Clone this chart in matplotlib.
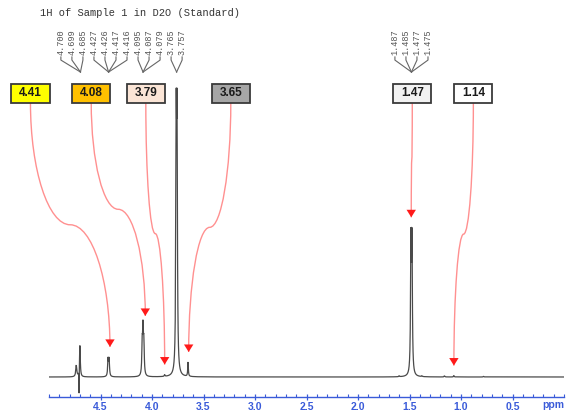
import numpy as np
import matplotlib
matplotlib.use("Agg")
import matplotlib.pyplot as plt
from matplotlib.path import Path
from matplotlib.patches import PathPatch, Rectangle

# ---------------- data ----------------
title = "1H of Sample 1 in D2O (Standard)"

# peak list (ppm, relative height, half width)
peak_ppm    = [4.735, 4.700, 4.708, 4.4265, 4.4165, 4.095, 4.087, 4.079, 3.877,
               3.765, 3.757, 3.650, 1.600, 1.486, 1.476, 1.380, 1.160, 1.069, 0.780]
peak_height = [0.040, 0.110, -0.085, 0.060, 0.060, 0.105, 0.150, 0.105, 0.006,
               0.810, 0.810, 0.050, 0.003, 0.448, 0.448, 0.003, 0.004, 0.005, 0.002]
peak_hwhm   = [0.006, 0.0045, 0.0008, 0.0045, 0.0045, 0.0045, 0.0045, 0.0045, 0.004,
               0.0045, 0.0045, 0.0035, 0.004, 0.0045, 0.0045, 0.004, 0.004, 0.0035, 0.004]

# assignment boxes
label_values = ["4.41", "4.08", "3.79", "3.65", "1.47", "1.14"]
label_colors = ["#ffff00", "#ffc000", "#fbe5d6", "#a6a6a6", "#f2f2f2", "#ffffff"]
label_box_ppm = [5.18, 4.59, 4.06, 3.235, 1.473, 0.88]
arrow_target_ppm = [4.408, 4.065, 3.877, 3.644, 1.483, 1.069]

# peak-picking label clusters (each cluster: list of multiplets)
pick_clusters = [
    [["4.700", "4.699", "4.685"],
     ["4.427", "4.426", "4.417", "4.416"],
     ["4.095", "4.087", "4.079"],
     ["3.765", "3.757"]],
    [["1.487", "1.485", "1.477", "1.475"]],
]

major_ticks = [4.5, 4.0, 3.5, 3.0, 2.5, 2.0, 1.5, 1.0, 0.5]

# ---------------- figure ----------------
W, H = 568, 411
fig = plt.figure(figsize=(W / 100, H / 100), dpi=100)
fig.patch.set_facecolor("white")

ax_left, ax_right, ax_bottom_px = 49, 564, 397
ax = fig.add_axes([ax_left / W, (H - ax_bottom_px) / H, (ax_right - ax_left) / W, ax_bottom_px / H])
ax.set_xlim(5.0, 0.0)
ax.set_ylim(-0.0702, 1.3228)

x = np.linspace(0.0, 5.0, 40001)
spec = np.zeros_like(x)
for p, h, w in zip(peak_ppm, peak_height, peak_hwhm):
    spec += h * w ** 2 / ((x - p) ** 2 + w ** 2)
ax.plot(x, spec, color="#4a4a4a", lw=0.9, solid_joinstyle="miter")

# axes styling
for s in ["left", "right", "top"]:
    ax.spines[s].set_visible(False)
axis_blue = "#3a5bd9"
ax.spines["bottom"].set_color(axis_blue)
ax.spines["bottom"].set_linewidth(1.0)
ax.set_yticks([])
ax.set_xticks(major_ticks)
ax.set_xticklabels([f"{t:.1f}" for t in major_ticks])
ax.set_xticks(np.round(np.arange(0.0, 5.01, 0.1), 1), minor=True)
ax.tick_params(axis="x", which="major", direction="inout", length=5, width=0.9,
               color=axis_blue, labelcolor=axis_blue, labelsize=7.5, pad=1)
ax.tick_params(axis="x", which="minor", direction="in", length=2.5, width=0.8, color=axis_blue)
for lab in ax.get_xticklabels():
    lab.set_fontweight("bold")
    lab.set_family("Liberation Sans")
ax.text(0.0, -0.110, "ppm", ha="right", va="baseline", color=axis_blue, fontsize=7.5,
        fontweight="bold", family="Liberation Sans", clip_on=False)

# title
fig.text(40 / W, 1 - 13 / H, title, family="Liberation Mono", fontsize=7.5,
         color="#333333", va="center", ha="left")

# ---------------- peak-picking labels ----------------
spacing = 0.107
y_text = 1.130
y_leader_top = 1.123
y_leader_knee = 1.112
y_leader_end = 1.070
for cluster in pick_clusters:
    all_vals = [float(v) for grp in cluster for v in grp]
    center = np.mean(all_vals)
    n = len(all_vals)
    positions = [center + ((n - 1) / 2 - i) * spacing for i in range(n)]
    k = 0
    for grp in cluster:
        gc = np.mean([float(v) for v in grp])
        for v in grp:
            px = positions[k]
            ax.text(px, y_text, v, rotation=90, ha="center", va="bottom",
                    family="Liberation Mono", fontsize=6.2, color="#555555", clip_on=False)
            ax.plot([px, px, gc], [y_leader_top, y_leader_knee, y_leader_end],
                    color="#666666", lw=0.8, clip_on=False)
            k += 1

# ---------------- assignment boxes and arrows ----------------
box_y = 0.996
box_w, box_h = 0.37, 0.0667
y_start = box_y - box_h / 2
gap = 0.035
kappa = 0.5523
for val, col, bx, tx in zip(label_values, label_colors, label_box_ppm, arrow_target_ppm):
    win = (x > tx - 0.02) & (x < tx + 0.02)
    ty = spec[win].max() + gap
    x0, y0, x1, y1 = bx, y_start, tx, ty
    xm, ym = (x0 + x1) / 2, (y0 + y1) / 2
    verts = [(x0, y0), (x0, y0 + kappa * (ym - y0)), (xm - kappa * (xm - x0), ym), (xm, ym),
             (xm + kappa * (x1 - xm), ym), (x1, y1 - kappa * (y1 - ym)), (x1, y1)]
    codes = [Path.MOVETO] + [Path.CURVE4] * 6
    ax.add_patch(PathPatch(Path(verts, codes), fill=False, edgecolor="#ff9090", lw=1.0,
                           clip_on=False, zorder=3))
    ax.annotate("", xy=(x1, y1), xytext=(x1, y1 + 0.03),
                arrowprops=dict(arrowstyle="-|>,head_length=0.45,head_width=0.28",
                                color="#ff1a1a", lw=0.01, shrinkA=0, shrinkB=0,
                                mutation_scale=12), annotation_clip=False, zorder=4)
    ax.add_patch(Rectangle((bx - box_w / 2, box_y - box_h / 2), box_w, box_h,
                           facecolor=col, edgecolor="#3a3a3a", lw=1.3, clip_on=False, zorder=5))
    ax.text(bx, box_y, val, ha="center", va="center", fontsize=8.5, fontweight="bold",
            family="Liberation Sans", color="#1a1a1a", zorder=6, clip_on=False)

fig.savefig("out.png", dpi=100)
